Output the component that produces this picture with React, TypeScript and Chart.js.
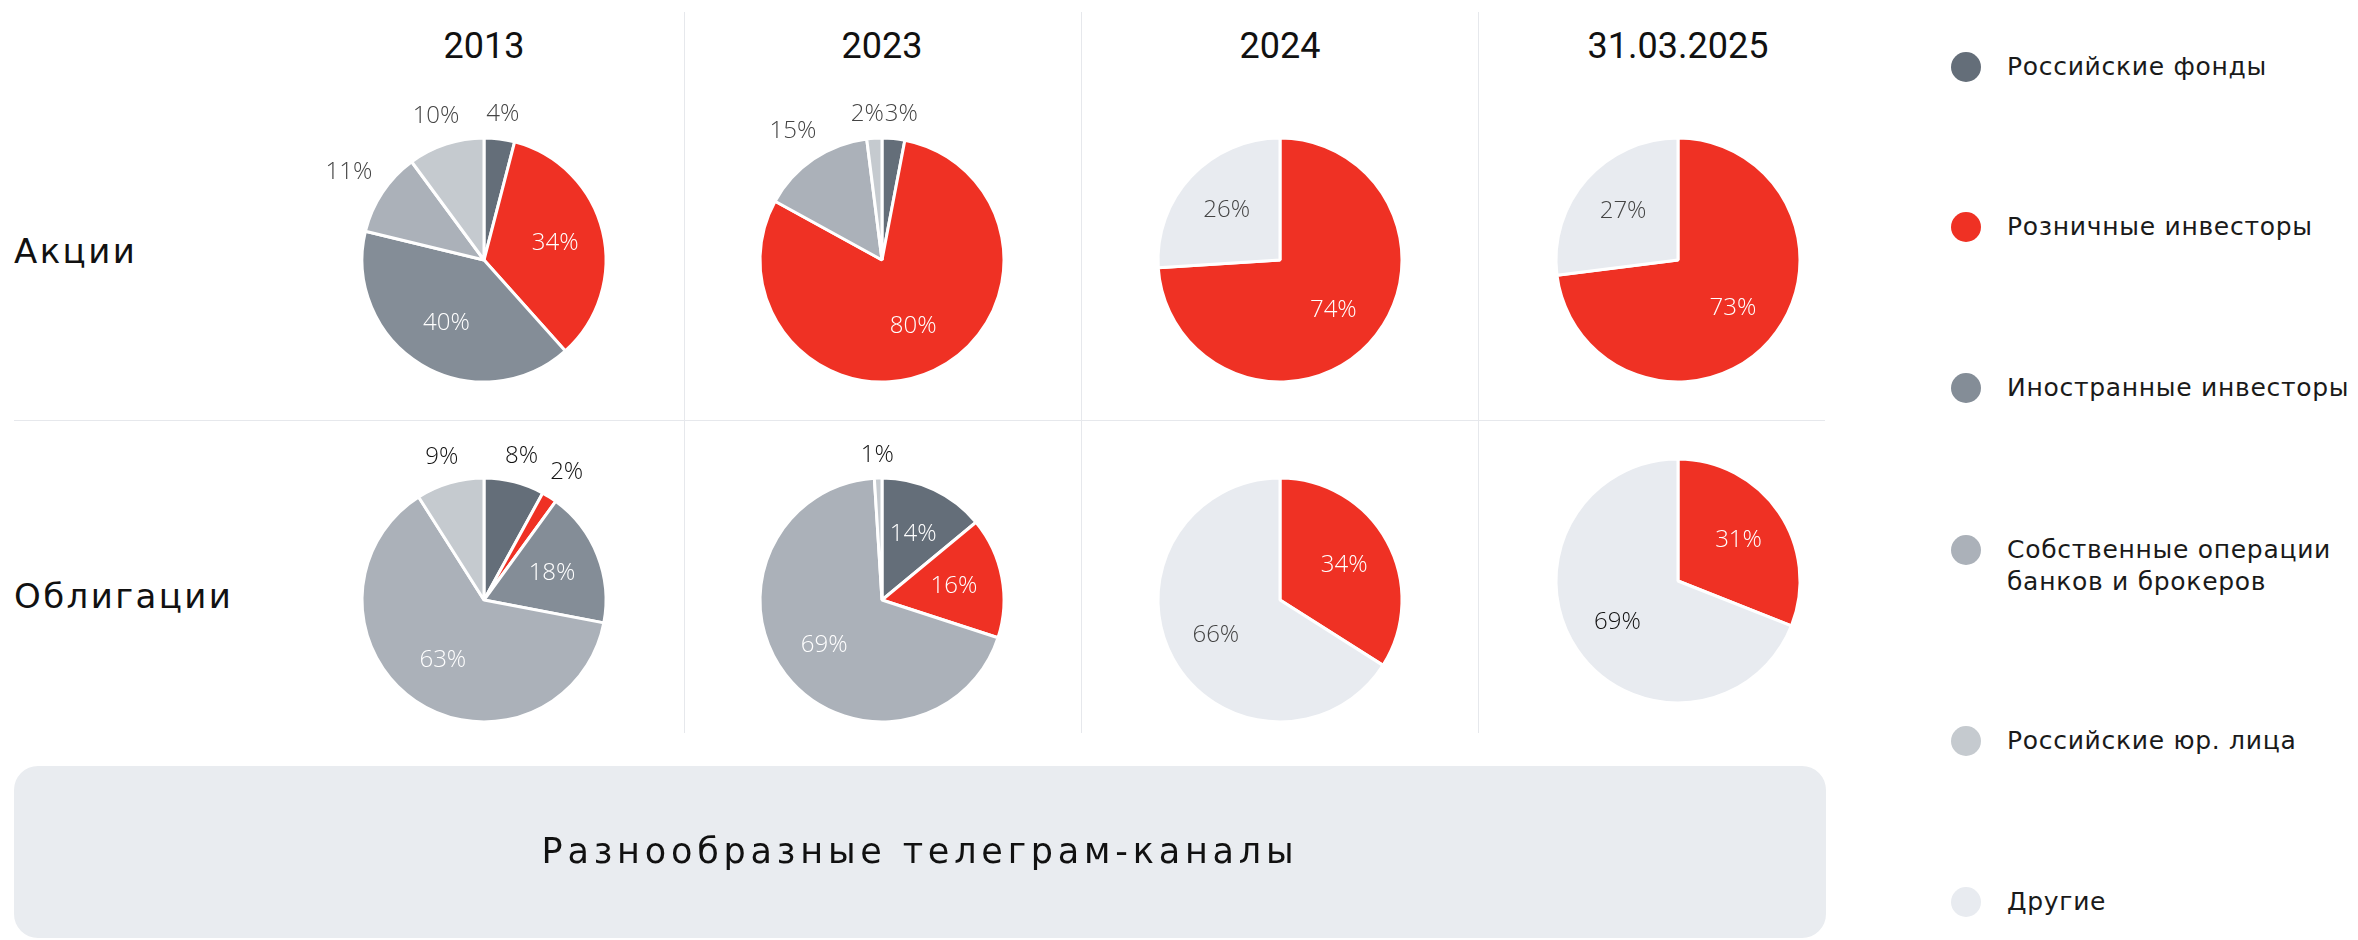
import React, { useEffect, useRef } from 'react';
import { Chart, registerables } from 'chart.js';

Chart.register(...registerables);

// ---------- data ----------
const categories = [
  'Российские фонды',
  'Розничные инвесторы',
  'Иностранные инвесторы',
  'Собственные операции банков и брокеров',
  'Российские юр. лица',
  'Другие',
];
const periods = ['2013', '2023', '2024', '31.03.2025'];
const rowLabels = ['Акции', 'Облигации'];

const stocks2013 = [4, 34, 40, 11, 10, 0];
const stocks2023 = [3, 80, 0, 15, 2, 0];
const stocks2024 = [0, 74, 0, 0, 0, 26];
const stocks2025 = [0, 73, 0, 0, 0, 27];

const bonds2013 = [8, 2, 18, 63, 9, 0];
const bonds2023 = [14, 16, 0, 69, 1, 0];
const bonds2024 = [0, 34, 0, 0, 0, 66];
const bonds2025 = [0, 31, 0, 0, 0, 69];

const bannerText = 'Разнообразные телеграм-каналы';

// ---------- style ----------
const colors = ['#646E79', '#EF3124', '#848D97', '#ABB1B9', '#C5CACF', '#E8EBF0'];
const FONT = '"DejaVu Sans", sans-serif';
const LABEL_FONT = '300 24px "Open Sans", "DejaVu Sans", sans-serif';

const colCenters = [484, 882, 1280, 1678];
const rowCenters = [260, 600];
const CW = 396;
const CH = 340;

const pieLabels = {
  id: 'pieLabels',
  afterDatasetsDraw(chart: any, _args: any, opts: any) {
    const { ctx } = chart;
    const meta = chart.getDatasetMeta(0);
    const ds = chart.data.datasets[0];
    ctx.save();
    ctx.font = opts.font;
    ctx.textAlign = 'center';
    ctx.textBaseline = 'middle';
    const items: any[] = [];
    meta.data.forEach((arc: any, i: number) => {
      const v = ds.data[i];
      if (!v) return;
      const p = arc.getProps(['x', 'y', 'startAngle', 'endAngle', 'outerRadius'], true);
      const mid = (p.startAngle + p.endAngle) / 2;
      const dx = Math.cos(mid);
      const dy = Math.sin(mid);
      const text = v + '%';
      const w = ctx.measureText(text).width;
      if ((opts.outside || []).includes(i)) {
        const ext = Math.abs(dx) * (w / 2) + Math.abs(dy) * 9;
        const d = p.outerRadius * 1.13 + ext;
        items.push({ text, x: p.x + dx * d, y: p.y + dy * d + 2, w, out: true, color: opts.outsideColor });
      } else {
        const d = p.outerRadius * 0.6;
        const color = i === 5 || i === 4 ? opts.lightColor : '#FFFFFF';
        items.push({ text, x: p.x + dx * d, y: p.y + dy * d, w, out: false, color });
      }
    });
    // simple collision resolution for outside labels
    const outs = items.filter((t) => t.out).sort((a, b) => a.x - b.x);
    for (let k = 0; k < 3; k++) {
      for (let i = 0; i < outs.length - 1; i++) {
        const a = outs[i];
        const b = outs[i + 1];
        if (Math.abs(a.y - b.y) < 20) {
          const need = (a.w + b.w) / 2 + 1;
          const gap = b.x - a.x;
          if (gap < need) {
            const s = (need - gap) / 2;
            a.x -= s;
            b.x += s;
          }
        }
      }
    }
    items.forEach((t) => {
      ctx.fillStyle = t.color;
      ctx.fillText(t.text, t.x, t.y);
    });
    ctx.restore();
  },
};

type PieProps = {
  values: number[];
  outside: number[];
  outsideColor: string;
  lightColor: string;
  cx: number;
  cy: number;
};

function Pie({ values, outside, outsideColor, lightColor, cx, cy }: PieProps) {
  const ref = useRef<HTMLCanvasElement | null>(null);
  useEffect(() => {
    if (!ref.current) return;
    const chart = new Chart(ref.current, {
      type: 'pie',
      data: {
        labels: categories,
        datasets: [
          {
            data: values,
            backgroundColor: colors,
            borderColor: '#FFFFFF',
            borderWidth: 3,
            radius: 122,
          } as any,
        ],
      },
      options: {
        responsive: false,
        animation: false,
        events: [],
        layout: { padding: 0 },
        plugins: {
          legend: { display: false },
          tooltip: { enabled: false },
          pieLabels: { font: LABEL_FONT, outside, outsideColor, lightColor },
        } as any,
      },
      plugins: [pieLabels as any],
    });
    return () => chart.destroy();
  }, []);
  return (
    <canvas
      ref={ref}
      width={CW}
      height={CH}
      style={{ position: 'absolute', left: cx - CW / 2, top: cy - CH / 2, width: CW, height: CH }}
    />
  );
}

const legendCenters = [67, 227, 388, 550, 741, 902];

export default function App() {
  const pies = [
    { values: stocks2013, outside: [0, 3, 4], row: 0, col: 0 },
    { values: stocks2023, outside: [0, 3, 4], row: 0, col: 1 },
    { values: stocks2024, outside: [], row: 0, col: 2 },
    { values: stocks2025, outside: [], row: 0, col: 3 },
    { values: bonds2013, outside: [0, 1, 4], row: 1, col: 0 },
    { values: bonds2023, outside: [4], row: 1, col: 1 },
    { values: bonds2024, outside: [], row: 1, col: 2 },
    { values: bonds2025, outside: [], row: 1, col: 3, dy: -19 },
  ];

  return (
    <div
      style={{
        position: 'absolute',
        left: 0,
        top: 0,
        width: 2358,
        height: 940,
        overflow: 'hidden',
        background: '#FFFFFF',
        fontFamily: FONT,
        color: '#111111',
      }}
    >
      {/* separators */}
      {[684, 1081, 1478].map((x) => (
        <div key={x} style={{ position: 'absolute', left: x, top: 12, width: 1, height: 721, background: '#E6E8EC' }} />
      ))}
      <div style={{ position: 'absolute', left: 14, top: 420, width: 1811, height: 1, background: '#E6E8EC' }} />

      {/* column headers */}
      {periods.map((p, i) => (
        <div
          key={p}
          style={{
            position: 'absolute',
            left: colCenters[i] - 150,
            width: 300,
            top: 26,
            textAlign: 'center',
            fontFamily: '"Roboto", sans-serif',
            fontWeight: 400,
            fontSize: 36,
            lineHeight: '40px',
            color: '#111111',
          }}
        >
          {p}
        </div>
      ))}

      {/* row labels */}
      {rowLabels.map((r, i) => (
        <div
          key={r}
          style={{
            position: 'absolute',
            left: 14,
            top: i === 0 ? 234 : 579,
            fontSize: 34,
            lineHeight: '34px',
            letterSpacing: '2.4px',
            whiteSpace: 'nowrap',
          }}
        >
          {r}
        </div>
      ))}

      {/* pies */}
      {pies.map((p, k) => (
        <Pie
          key={k}
          values={p.values}
          outside={p.outside}
          outsideColor={p.row === 0 ? '#444444' : '#111111'}
          lightColor={p.row === 1 && p.col === 3 ? '#111111' : '#444444'}
          cx={colCenters[p.col]}
          cy={rowCenters[p.row] + ((p as any).dy || 0)}
        />
      ))}

      {/* legend */}
      {categories.map((c, i) => (
        <React.Fragment key={c}>
          <div
            style={{
              position: 'absolute',
              left: 1951,
              top: legendCenters[i] - 15,
              width: 30,
              height: 30,
              borderRadius: 15,
              background: colors[i],
            }}
          />
          <div
            style={{
              position: 'absolute',
              left: 2007,
              top: legendCenters[i] - 16,
              fontSize: 25,
              lineHeight: '32px',
              letterSpacing: '0.7px',
              color: '#1A1A1A',
              whiteSpace: 'pre',
            }}
          >
            {c.replace(' банков', '\nбанков')}
          </div>
        </React.Fragment>
      ))}

      {/* banner */}
      <div
        style={{
          position: 'absolute',
          left: 14,
          top: 766,
          width: 1812,
          height: 172,
          borderRadius: 24,
          background: '#E9ECF0',
        }}
      />
      <div
        style={{
          position: 'absolute',
          left: 14,
          width: 1812,
          top: 834,
          textAlign: 'center',
          fontSize: 35,
          lineHeight: '35px',
          letterSpacing: '4.8px',
          color: '#111111',
          whiteSpace: 'nowrap',
        }}
      >
        {bannerText}
      </div>
    </div>
  );
}
